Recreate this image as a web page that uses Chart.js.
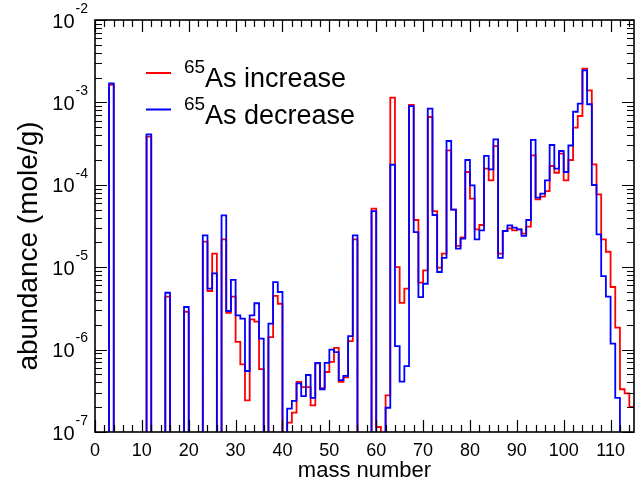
<!DOCTYPE html>
<html>
<head>
<meta charset="utf-8">
<script src="https://cdn.jsdelivr.net/npm/chart.js@4.4.1/dist/chart.umd.min.js"></script>
<style>
html,body{margin:0;padding:0;background:#fff;}
#wrap{width:640px;height:484px;position:relative;}
</style>
</head>
<body>
<div id="wrap"><canvas id="c" width="640" height="484"></canvas></div>
<script>
// ---- data ----
const massNumbers = [
  1,2,3,4,5,6,7,8,9,10,
  11,12,13,14,15,16,17,18,19,20,
  21,22,23,24,25,26,27,28,29,30,
  31,32,33,34,35,36,37,38,39,40,
  41,42,43,44,45,46,47,48,49,50,
  51,52,53,54,55,56,57,58,59,60,
  61,62,63,64,65,66,67,68,69,70,
  71,72,73,74,75,76,77,78,79,80,
  81,82,83,84,85,86,87,88,89,90,
  91,92,93,94,95,96,97,98,99,100,
  101,102,103,104,105,106,107,108,109,110,
  111,112,113,114,115
];
// 0 = below the plotted range
const as65Increase = [
  0,0,1.63e-3,0,0,0,0,0,0,0,
  3.84e-4,0,0,0,4.39e-6,0,0,0,2.88e-6,0,
  0,0,2.04e-5,5.14e-6,1.46e-5,0,2.18e-5,2.8e-6,4.39e-6,1.24e-6,
  6.6e-7,2.42e-7,2.33e-6,2.18e-6,5.8e-7,0,1.42e-6,4.5e-6,3.6e-6,0,
  1.3e-7,1.72e-7,4.05e-7,3.5e-7,3.5e-7,2.1e-7,6.8e-7,3.4e-7,5.35e-7,7.1e-7,
  1.05e-6,4.05e-7,4.6e-7,1.27e-6,2.18e-5,0,0,0,5.13e-5,1.15e-7,
  0,2.79e-7,1.14e-3,1.0e-5,3.7e-6,5.5e-6,9.3e-4,3.74e-5,6.5e-6,9.16e-6,
  6.65e-4,4.8e-5,9.9e-6,1.46e-5,2.62e-4,5.0e-5,1.81e-5,2.3e-5,1.43e-4,6.8e-5,
  2.88e-5,3.25e-5,1.57e-4,1.13e-4,2.95e-4,1.46e-5,2.75e-5,2.96e-5,2.8e-5,2.88e-5,
  2.55e-5,3.1e-5,2.28e-4,6.67e-5,7.2e-5,8.4e-5,1.69e-4,1.4e-4,2.39e-4,1.13e-4,
  2.0e-4,4.93e-4,6.84e-4,2.56e-3,1.4e-3,1.77e-4,7.66e-5,2.18e-5,1.54e-5,5.75e-6,
  1.85e-6,3.3e-7,2.94e-7,2.01e-7,2.0e-7
];
const as65Decrease = [
  0,0,1.70e-3,0,0,0,0,0,0,0,
  4.09e-4,0,0,0,4.9e-6,0,0,0,3.29e-6,0,
  0,0,2.44e-5,5.5e-6,8.43e-6,0,4.26e-5,2.94e-6,7.0e-6,2.6e-6,
  2.37e-6,5.5e-7,2.6e-6,3.65e-6,1.36e-6,0,2.07e-6,6.6e-6,5.0e-6,0,
  1.92e-7,2.38e-7,3.9e-7,2.73e-7,4.92e-7,2.6e-7,6.9e-7,3.3e-7,6.9e-7,1.0e-6,
  9.3e-7,4.27e-7,4.8e-7,1.46e-6,2.44e-5,0,0,0,4.8e-5,0,
  0,1.97e-7,1.75e-4,1.1e-6,4.08e-7,6.3e-7,9.0e-4,2.67e-5,4.34e-6,6.3e-6,
  8.4e-4,4.3e-5,8.75e-6,1.3e-5,3.4e-4,5.0e-5,1.68e-5,2.22e-5,2.0e-4,9.86e-5,
  2.18e-5,2.8e-5,2.24e-4,1.54e-4,3.56e-4,1.3e-5,2.75e-5,3.22e-5,3.02e-5,2.88e-5,
  2.4e-5,3.74e-5,3.5e-4,6.98e-5,7.8e-5,1.13e-4,3.04e-4,1.57e-4,2.57e-4,1.43e-4,
  3.0e-4,7.7e-4,9.66e-4,2.45e-3,9.5e-4,9.95e-5,2.5e-5,7.8e-6,4.39e-6,1.18e-6,
  2.6e-7,0,0,0,0
];
const xMajorTicks = [0,10,20,30,40,50,60,70,80,90,100,110];
const yExponents = [-7,-6,-5,-4,-3,-2];
const legendSup = '65';
const legendLabels = ['As increase', 'As decrease'];
const seriesColors = ['rgb(255,0,0)', 'rgb(0,0,255)'];
const xTitle = 'mass number';
const yTitle = 'abundance (mole/g)';

const FONT = "'Liberation Sans', Arial, Helvetica, sans-serif";
Chart.defaults.font.family = FONT;
Chart.defaults.color = '#000';

const BELOW = 1e-12; // off-scale marker for empty bins
const toPts = arr => massNumbers.map((m, i) => ({x: m, y: arr[i] > 0 ? arr[i] : BELOW}));

// frame + inward ticks + y labels + y title + legend
const decorPlugin = {
  id: 'decor',
  afterDatasetsDraw(chart) {
    const {ctx, chartArea: a, scales: {x, y}} = chart;
    ctx.save();
    ctx.strokeStyle = '#000';
    ctx.lineWidth = 1.2;
    ctx.beginPath();
    for (let v = x.min; v <= x.max; v += 2) {
      const px = Math.round(x.getPixelForValue(v)) + 0.5;
      const len = xMajorTicks.includes(v) ? 12 : 7;
      ctx.moveTo(px, a.bottom); ctx.lineTo(px, a.bottom - len);
      ctx.moveTo(px, a.top); ctx.lineTo(px, a.top + len);
    }
    yExponents.forEach(e => {
      for (let m = 1; m <= 9; m++) {
        const val = m * Math.pow(10, e);
        if (val > y.max * 1.0001) break;
        const py = Math.round(y.getPixelForValue(val)) + 0.5;
        const len = m === 1 ? 12 : 7;
        ctx.moveTo(a.left, py); ctx.lineTo(a.left + len, py);
        ctx.moveTo(a.right, py); ctx.lineTo(a.right - len, py);
      }
    });
    ctx.stroke();
    ctx.lineWidth = 1.6;
    ctx.strokeRect(a.left, a.top, a.right - a.left, a.bottom - a.top);

    ctx.fillStyle = '#000';
    yExponents.forEach(e => {
      const py = y.getPixelForValue(Math.pow(10, e));
      const expTxt = String(e);
      ctx.font = '14px ' + FONT;
      const ew = ctx.measureText(expTxt).width;
      const right = a.left - 7;
      ctx.textAlign = 'left';
      ctx.textBaseline = 'middle';
      ctx.fillText(expTxt, right - ew, py - 11);
      ctx.font = '20px ' + FONT;
      ctx.textAlign = 'right';
      ctx.fillText('10', right - ew - 1, py + 2);
    });

    ctx.save();
    ctx.translate(29, 246);
    ctx.rotate(-Math.PI / 2);
    ctx.font = '28px ' + FONT;
    ctx.textAlign = 'center';
    ctx.textBaseline = 'middle';
    ctx.fillText(yTitle, 0, 0);
    ctx.restore();

    const rows = [73, 109.5];
    legendLabels.forEach((lab, i) => {
      const ly = rows[i];
      ctx.strokeStyle = seriesColors[i];
      ctx.lineWidth = 2;
      ctx.beginPath();
      ctx.moveTo(146, ly); ctx.lineTo(171, ly);
      ctx.stroke();
      ctx.fillStyle = '#000';
      ctx.textAlign = 'left';
      ctx.textBaseline = 'alphabetic';
      ctx.font = '19px ' + FONT;
      ctx.fillText(legendSup, 184, ly);
      ctx.font = '27px ' + FONT;
      ctx.fillText(lab, 205, ly + 14);
    });
    ctx.restore();
  }
};

new Chart(document.getElementById('c'), {
  type: 'line',
  data: {
    datasets: [
      {label: legendSup + legendLabels[0], data: toPts(as65Increase), borderColor: seriesColors[0],
       stepped: 'before', borderWidth: 1.8, pointRadius: 0, fill: false, order: 1,
       borderJoinStyle: 'miter', tension: 0},
      {label: legendSup + legendLabels[1], data: toPts(as65Decrease), borderColor: seriesColors[1],
       stepped: 'before', borderWidth: 1.8, pointRadius: 0, fill: false, order: 0,
       borderJoinStyle: 'miter', tension: 0}
    ]
  },
  options: {
    responsive: false,
    animation: false,
    devicePixelRatio: 1,
    layout: {padding: {left: 0, right: 6, top: 20, bottom: 0}},
    plugins: {legend: {display: false}, tooltip: {enabled: false}},
    scales: {
      x: {
        type: 'linear', min: 0, max: 115,
        grid: {display: false, drawTicks: false},
        border: {display: false},
        ticks: {stepSize: 10, includeBounds: false, autoSkip: false, maxRotation: 0,
                font: {size: 18}, color: '#000', padding: 8},
        title: {display: true, text: xTitle, font: {size: 22}, color: '#000', padding: {top: 0, bottom: 0}},
        afterFit: s => { s.height = 52; }
      },
      y: {
        type: 'logarithmic', min: 1e-7, max: 1e-2,
        grid: {display: false, drawTicks: false},
        border: {display: false},
        ticks: {display: false},
        afterFit: s => { s.width = 95; }
      }
    }
  },
  plugins: [decorPlugin]
});
</script>
</body>
</html>
